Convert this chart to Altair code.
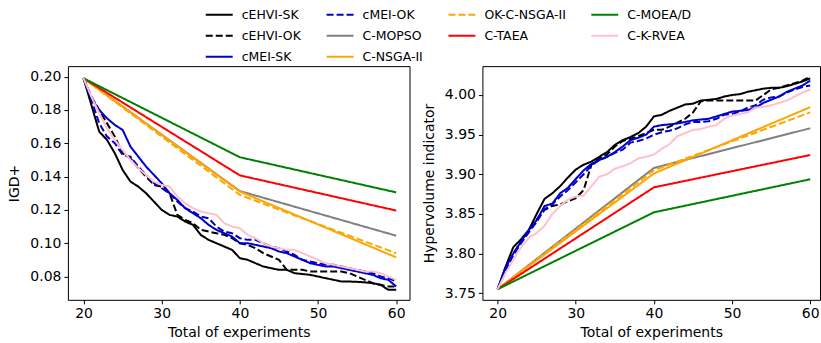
import altair as alt
import pandas as pd

# ---------------- data ----------------
x_dense = list(range(20, 61))
x_sparse = [20, 40, 60]

names = ["cEHVI-SK", "cEHVI-OK", "cMEI-SK", "cMEI-OK", "C-MOPSO", "C-NSGA-II",
         "OK-C-NSGA-II", "C-TAEA", "C-MOEA/D", "C-K-RVEA"]
colors = ["black", "black", "#0000cd", "#0000cd", "gray", "orange",
          "orange", "red", "green", "pink"]
dashed = [False, True, False, True, False, False, True, False, False, False]

# IGD+ (left)
igd_cehvi_sk = [0.199, 0.183, 0.167, 0.162, 0.154, 0.144, 0.137, 0.134, 0.130, 0.125,
                0.120, 0.117, 0.116, 0.113, 0.111, 0.105, 0.102, 0.100, 0.098, 0.096,
                0.091, 0.090, 0.088, 0.086, 0.085, 0.084, 0.084, 0.082, 0.0815, 0.081,
                0.080, 0.079, 0.078, 0.077, 0.077, 0.0768, 0.0765, 0.076, 0.075, 0.072, 0.072]
igd_cehvi_ok = [0.199, 0.188, 0.180, 0.172, 0.164, 0.154, 0.151, 0.145, 0.140, 0.135,
                0.134, 0.130, 0.117, 0.114, 0.112, 0.108, 0.107, 0.106, 0.105, 0.103,
                0.100, 0.099, 0.097, 0.094, 0.092, 0.090, 0.084, 0.084, 0.084, 0.083,
                0.083, 0.083, 0.083, 0.083, 0.082, 0.080, 0.078, 0.076, 0.075, 0.074, 0.074]
igd_cmei_sk = [0.199, 0.187, 0.180, 0.175, 0.171, 0.168, 0.158, 0.152, 0.146, 0.141,
               0.136, 0.130, 0.126, 0.121, 0.118, 0.115, 0.111, 0.108, 0.106, 0.104,
               0.100, 0.100, 0.099, 0.098, 0.097, 0.095, 0.094, 0.092, 0.090, 0.088,
               0.087, 0.086, 0.086, 0.085, 0.084, 0.083, 0.082, 0.081, 0.079, 0.078, 0.074]
igd_cmei_ok = [0.199, 0.186, 0.172, 0.164, 0.160, 0.153, 0.152, 0.146, 0.141, 0.136,
               0.133, 0.130, 0.125, 0.121, 0.119, 0.116, 0.115, 0.110, 0.107, 0.106,
               0.103, 0.102, 0.102, 0.100, 0.098, 0.097, 0.095, 0.093, 0.090, 0.089,
               0.088, 0.087, 0.087, 0.086, 0.085, 0.084, 0.083, 0.082, 0.080, 0.079, 0.077]
igd_ckrvea = [0.199, 0.188, 0.178, 0.169, 0.162, 0.156, 0.150, 0.145, 0.141, 0.137,
              0.135, 0.134, 0.128, 0.124, 0.121, 0.119, 0.118, 0.117, 0.112, 0.110,
              0.109, 0.105, 0.103, 0.100, 0.098, 0.097, 0.096, 0.096, 0.094, 0.092,
              0.090, 0.088, 0.087, 0.086, 0.085, 0.084, 0.083, 0.083, 0.082, 0.080, 0.078]
igd_cmopso = [0.199, 0.1313, 0.1045]
igd_cnsga = [0.199, 0.131, 0.0915]
igd_okcnsga = [0.199, 0.129, 0.094]
igd_ctaea = [0.199, 0.1407, 0.1196]
igd_cmoead = [0.199, 0.1516, 0.1305]

# Hypervolume (right)
hv_cehvi_sk = [3.755, 3.783, 3.808, 3.818, 3.830, 3.850, 3.869, 3.876, 3.885, 3.896,
               3.906, 3.912, 3.916, 3.922, 3.928, 3.937, 3.943, 3.947, 3.952, 3.960,
               3.973, 3.975, 3.980, 3.984, 3.988, 3.989, 3.993, 3.994, 3.995, 3.998,
               4.000, 4.001, 4.004, 4.006, 4.008, 4.009, 4.009, 4.011, 4.014, 4.017, 4.021]
hv_cehvi_ok = [3.755, 3.778, 3.800, 3.815, 3.828, 3.843, 3.855, 3.860, 3.862, 3.866,
               3.870, 3.880, 3.912, 3.920, 3.925, 3.935, 3.942, 3.945, 3.948, 3.952,
               3.956, 3.956, 3.960, 3.965, 3.970, 3.978, 3.992, 3.993, 3.993, 3.993,
               3.993, 3.993, 3.993, 3.993, 4.000, 4.007, 4.009, 4.012, 4.015, 4.018, 4.023]
hv_cmei_sk = [3.755, 3.782, 3.800, 3.815, 3.830, 3.842, 3.860, 3.863, 3.876, 3.883,
              3.894, 3.905, 3.913, 3.918, 3.922, 3.928, 3.935, 3.943, 3.946, 3.950,
              3.960, 3.962, 3.963, 3.964, 3.966, 3.968, 3.969, 3.970, 3.973, 3.976,
              3.979, 3.980, 3.981, 3.984, 3.990, 3.994, 3.998, 4.004, 4.008, 4.012, 4.018]
hv_cmei_ok = [3.755, 3.778, 3.798, 3.813, 3.827, 3.840, 3.856, 3.862, 3.872, 3.880,
              3.890, 3.900, 3.911, 3.918, 3.922, 3.927, 3.931, 3.940, 3.942, 3.945,
              3.950, 3.953, 3.955, 3.958, 3.963, 3.966, 3.966, 3.967, 3.970, 3.975,
              3.976, 3.979, 3.984, 3.987, 3.994, 3.997, 3.998, 4.003, 4.007, 4.010, 4.012]
hv_ckrvea = [3.755, 3.775, 3.792, 3.808, 3.820, 3.826, 3.835, 3.850, 3.860, 3.868,
             3.872, 3.873, 3.885, 3.897, 3.900, 3.907, 3.910, 3.914, 3.920, 3.922,
             3.925, 3.932, 3.938, 3.948, 3.952, 3.956, 3.957, 3.960, 3.962, 3.970,
             3.974, 3.976, 3.978, 3.984, 3.985, 3.987, 3.990, 3.993, 3.998, 4.003, 4.007]
hv_cmopso = [3.755, 3.908, 3.958]
hv_cnsga = [3.755, 3.901, 3.9847]
hv_okcnsga = [3.755, 3.905, 3.978]
hv_ctaea = [3.755, 3.8835, 3.9243]
hv_cmoead = [3.755, 3.852, 3.8937]

igd_series = [igd_cehvi_sk, igd_cehvi_ok, igd_cmei_sk, igd_cmei_ok, igd_cmopso,
              igd_cnsga, igd_okcnsga, igd_ctaea, igd_cmoead, igd_ckrvea]
hv_series = [hv_cehvi_sk, hv_cehvi_ok, hv_cmei_sk, hv_cmei_ok, hv_cmopso,
             hv_cnsga, hv_okcnsga, hv_ctaea, hv_cmoead, hv_ckrvea]


def build(series_list):
    rows = []
    for order, (name, vals) in enumerate(zip(names, series_list)):
        xs = x_dense if len(vals) == len(x_dense) else x_sparse
        assert len(xs) == len(vals), name
        for x, v in zip(xs, vals):
            rows.append({"alg": name, "n": x, "v": v, "o": order})
    return pd.DataFrame(rows)


df_igd = build(igd_series)
df_hv = build(hv_series)

# row-major legend order reproducing matplotlib's column-major fill (4 columns)
legend_order = [names[i] for i in [0, 3, 6, 8, 1, 4, 7, 9, 2, 5]]
color_of = dict(zip(names, colors))
dash_of = dict(zip(names, dashed))
color_scale = alt.Scale(domain=legend_order, range=[color_of[n] for n in legend_order])
dash_scale = alt.Scale(domain=legend_order,
                       range=[[7, 3] if dash_of[n] else [1, 0] for n in legend_order])

FONT = "DejaVu Sans"

legend = alt.Legend(
    title=None, orient="none", legendX=137, legendY=-66, columns=4,
    direction="horizontal",
    symbolType="stroke", symbolSize=729, symbolStrokeWidth=2,
    labelFontSize=12.5, labelOffset=8, columnPadding=21, rowPadding=-12.5,
    labelFont=FONT, labelColor="black", padding=0,
)


def panel(df, ytitle, xdomain, ydomain, yticks, width, height):
    return alt.Chart(df).mark_line(strokeWidth=2, strokeCap="butt").encode(
        x=alt.X("n:Q", title="Total of experiments",
                scale=alt.Scale(domain=xdomain, nice=False, zero=False),
                axis=alt.Axis(values=[20, 30, 40, 50, 60], format="d")),
        y=alt.Y("v:Q", title=ytitle,
                scale=alt.Scale(domain=ydomain, nice=False, zero=False),
                axis=alt.Axis(values=yticks, format=".2f")),
        color=alt.Color("alg:N", scale=color_scale, legend=legend),
        strokeDash=alt.StrokeDash("alg:N", scale=dash_scale, legend=legend),
        order=alt.Order("o:Q"),
        detail="alg:N",
    ).properties(width=width, height=height)


left = panel(df_igd, "IGD+", [18.0, 61.7], [0.066, 0.2063],
             [0.08, 0.10, 0.12, 0.14, 0.16, 0.18, 0.20], 342, 234)
right = panel(df_hv, "Hypervolume indicator", [18.05, 61.25], [3.7416, 4.0364],
              [3.75, 3.80, 3.85, 3.90, 3.95, 4.00], 338, 234)

chart = alt.hconcat(left, right, spacing=11).properties(
    padding={"left": 7, "top": 0, "right": 0, "bottom": 0}
).configure_view(
    stroke="black", strokeWidth=1
).configure_axis(
    grid=False, domain=False, tickColor="black", tickSize=4, tickWidth=1,
    labelColor="black", labelFontSize=14, labelFont=FONT, labelPadding=3,
    titleColor="black", titleFontSize=14, titleFont=FONT, titleFontWeight="normal",
).configure_axisX(titlePadding=5).configure_axisY(titlePadding=8)

chart.save("out.html", embed_options={"renderer": "svg", "actions": False})
